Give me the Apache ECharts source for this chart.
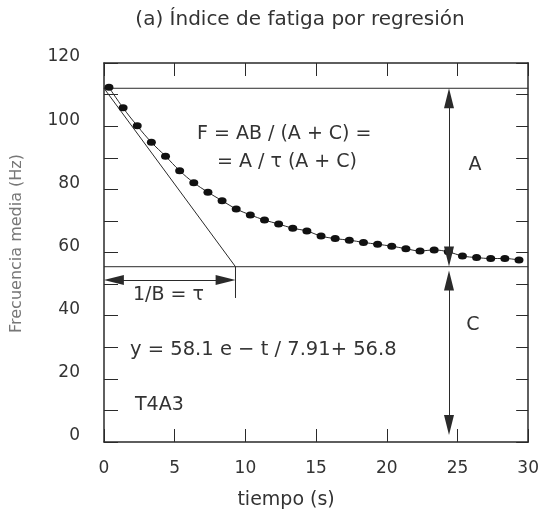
<!DOCTYPE html>
<html>
<head>
<meta charset="utf-8">
<script src="https://cdn.jsdelivr.net/npm/echarts@6/dist/echarts.min.js"></script>
<style>
html,body{margin:0;padding:0;background:#fff;}
#chart{width:542px;height:518px;}
</style>
</head>
<body>
<div id="chart"></div>
<script>
// ---- data ----
const titleText = '(a) Índice de fatiga por regresión';
const xName = 'tiempo (s)';
const yName = 'Frecuencia media (Hz)';
const times = [0.35,1.35,2.35,3.35,4.35,5.35,6.35,7.35,8.35,9.35,10.35,11.35,12.35,13.35,14.35,15.35,16.35,17.35,18.35,19.35,20.35,21.35,22.35,23.35,24.35,25.35,26.35,27.35,28.35,29.35];
const freq  = [112.3,105.8,100.1,94.9,90.5,85.9,82.1,79.1,76.4,73.8,71.9,70.3,69.0,67.7,66.8,65.2,64.4,63.9,63.2,62.6,62.0,61.2,60.5,60.8,60.2,58.9,58.4,58.1,58.1,57.6];
const upperLevel = 112;     // A + C
const lowerLevel = 55.5;    // C
const tauEnd = 9.3;         // end of tangent
const tauTickBottom = 45.6;
const tauArrowY = 51.3;
const arrowT = 24.4;
const xTicks = [0,5,10,15,20,25,30];
const yTicks = [0,20,40,60,80,100,120];

const chart = echarts.init(document.getElementById('chart'));
const ink = '#2a2a2a';
const font = '"DejaVu Sans", Verdana, sans-serif';

const points = times.map((t,i)=>[t,freq[i]]);
const tangent = [[0,upperLevel],[tauEnd,lowerLevel],[tauEnd,tauTickBottom]];
const upperLine = [[xTicks[0],upperLevel],[xTicks[xTicks.length-1],upperLevel]];
const lowerLine = [[xTicks[0],lowerLevel],[xTicks[xTicks.length-1],lowerLevel]];

const arrowStyle = {color: ink, width: 1, type: 'solid'};
const txt = (s, x, y, align, size) => ({
  type: 'text', x: x, y: y,
  style: {text: s, fill: '#333', font: (size || 19) + 'px ' + font, textAlign: align || 'left', textVerticalAlign: 'middle'}
});

chart.setOption({
  animation: false,
  backgroundColor: '#fff',
  title: {
    text: titleText, left: 295, top: 5, textAlign: 'center',
    textStyle: {fontFamily: font, fontSize: 20, fontWeight: 'normal', color: '#333'}
  },
  grid: {left: 104, right: 9, top: 63, bottom: 76},
  xAxis: [{
    type: 'value', min: 0, max: 30, interval: 5, position: 'bottom',
    name: xName, nameLocation: 'middle', nameGap: 49,
    nameTextStyle: {fontFamily: font, fontSize: 19, color: '#333', padding: [0, 60, 0, 0]},
    axisLine: {show: true, onZero: false, lineStyle: {color: ink, width: 1.5}},
    axisTick: {show: true, inside: true, length: 13, lineStyle: {color: ink, width: 1}},
    axisLabel: {fontFamily: font, fontSize: 17, color: '#333', margin: 18},
    splitLine: {show: false}
  },{
    type: 'value', min: 0, max: 30, interval: 5, position: 'top',
    axisLine: {show: true, onZero: false, lineStyle: {color: ink, width: 1.5}},
    axisTick: {show: true, inside: true, length: 13, lineStyle: {color: ink, width: 1}},
    axisLabel: {show: false},
    splitLine: {show: false}
  }],
  yAxis: [{
    type: 'value', min: 0, max: 120, interval: 10, position: 'left',
    name: yName, nameLocation: 'middle', nameGap: 79, nameRotate: 90,
    nameTextStyle: {fontFamily: font, fontSize: 16, color: '#777', padding: [0, 0, 0, 18]},
    axisLine: {show: true, onZero: false, lineStyle: {color: ink, width: 1.5}},
    axisTick: {show: true, inside: true, length: 14, lineStyle: {color: ink, width: 1}},
    axisLabel: {fontFamily: font, fontSize: 17, color: '#333', margin: 24, verticalAlign: 'bottom', lineHeight: 12,
      formatter: v => (yTicks.indexOf(v) >= 0 ? String(v) : '')},
    splitLine: {show: false}
  },{
    type: 'value', min: 0, max: 120, interval: 10, position: 'right',
    axisLine: {show: true, onZero: false, lineStyle: {color: ink, width: 1.5}},
    axisTick: {show: true, inside: true, length: 12, lineStyle: {color: ink, width: 1}},
    axisLabel: {show: false},
    splitLine: {show: false}
  }],
  series: [
    {type: 'line', data: upperLine, symbol: 'none', lineStyle: {color: ink, width: 1}, silent: true},
    {type: 'line', data: lowerLine, symbol: 'none', lineStyle: {color: ink, width: 1}, silent: true},
    {type: 'line', data: tangent, symbol: 'none', lineStyle: {color: ink, width: 1}, silent: true},
    {type: 'line', data: points, smooth: 0.4, symbol: 'circle', symbolSize: [9,7], showSymbol: true,
      itemStyle: {color: '#111'}, lineStyle: {color: ink, width: 1}, silent: true},
    {type: 'line', data: [], silent: true,
      markLine: {
        silent: true, symbol: ['triangle','triangle'], symbolSize: [10,20],
        label: {show: false}, lineStyle: arrowStyle, emphasis: {disabled: true},
        data: [
          [{coord: [0 + 0.7, tauArrowY]}, {coord: [tauEnd - 0.7, tauArrowY]}],
          [{coord: [arrowT, upperLevel - 3.2]}, {coord: [arrowT, lowerLevel + 3.2]}],
          [{coord: [arrowT, lowerLevel - 4.4]}, {coord: [arrowT, 0 + 5.4]}]
        ]
      }
    }
  ],
  graphic: [
    txt('F = AB / (A + C) =', 197, 134),
    txt('= A / τ (A + C)', 217, 162),
    txt('A', 475, 165, 'center'),
    txt('1/B = τ', 133, 295),
    txt('C', 473, 325, 'center'),
    txt('y = 58.1 e − t / 7.91+ 56.8', 130, 350, 'left', 19.5),
    txt('T4A3', 135, 405)
  ]
});
</script>
</body>
</html>
